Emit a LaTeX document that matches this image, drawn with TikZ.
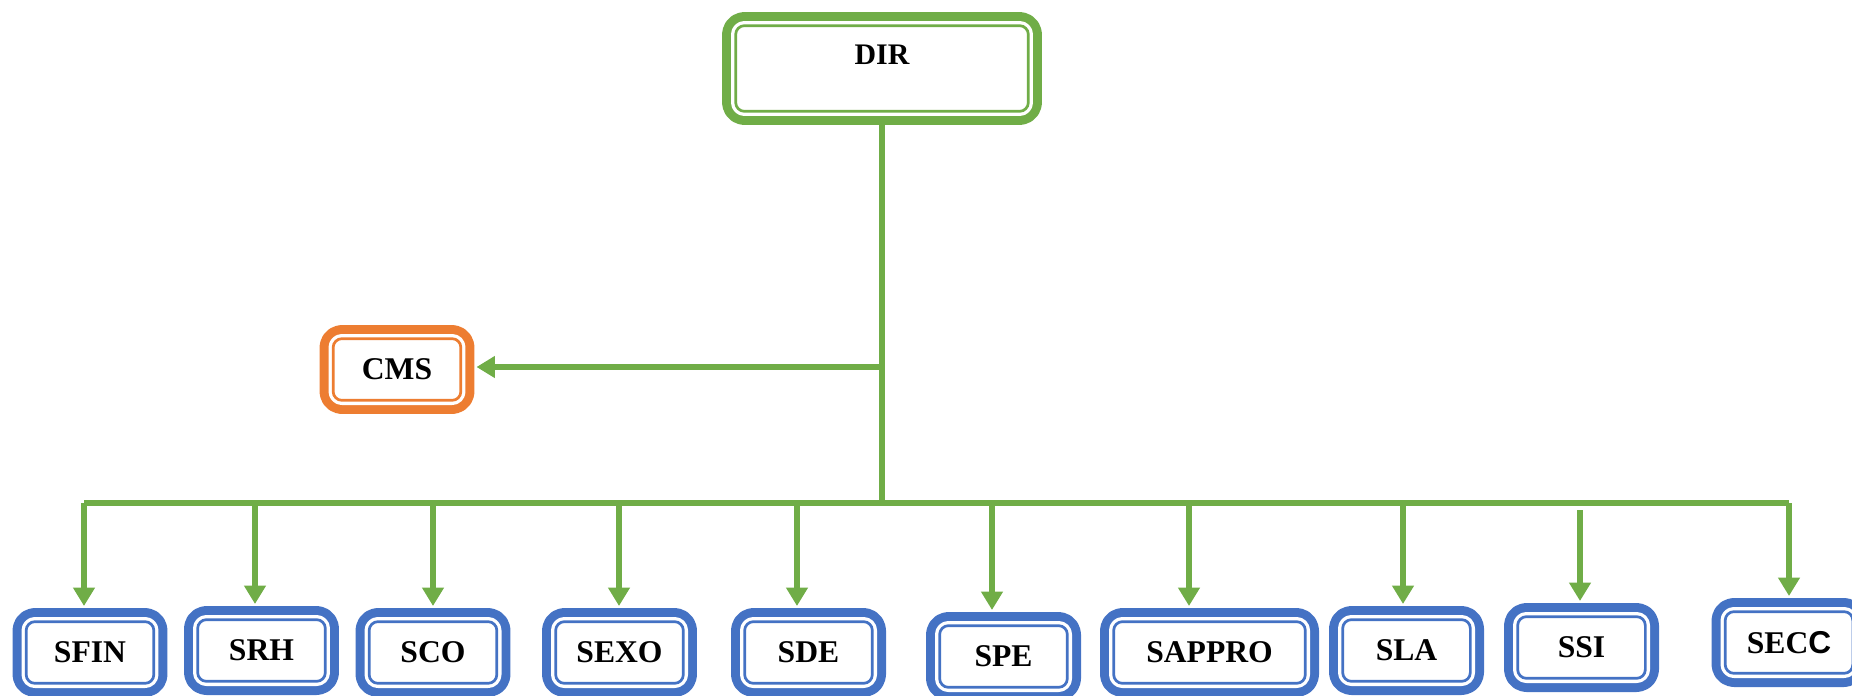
\documentclass[tikz,border=0pt]{standalone}
\usepackage{fontspec}
\setmainfont{Liberation Serif}
\setsansfont{Liberation Sans}
\usetikzlibrary{arrows.meta,positioning}
\definecolor{dirgreen}{HTML}{70AD47}
\definecolor{cmsorange}{HTML}{ED7D31}
\definecolor{srvblue}{HTML}{4472C4}

\begin{document}
\begin{tikzpicture}[x=0.02cm, y=-0.02cm,
  unit/.style={rectangle, draw=#1, fill=white, line width=1.54pt, rounded corners=5pt, line join=round, inner sep=0pt, outer sep=7.77pt,
    minimum width=2.554cm, minimum height=1.234cm, align=center, font=\fontsize{18}{20}\selectfont\bfseries,
    preaction={draw=#1, line width=15.54pt, line join=round}, preaction={draw=white, line width=5.3pt, line join=round}},
  link/.style={draw=dirgreen, line width=0.12cm},
  arr/.style={link, -{Triangle[length=0.37cm, width=0.42cm]}, shorten >=0.04cm}]
\useasboundingbox (0,0) rectangle (1852,696);
% direction and advisory unit
\node[unit=dirgreen, minimum width=5.854cm, minimum height=1.714cm, text depth=0.54cm, font=\fontsize{17}{20}\selectfont\bfseries] (dir) at (882,68.5) {DIR};
\node[unit=cmsorange] (cms) at (397,369.5) {CMS};
% services
\node[unit=srvblue] (sfin) at (90,652.5) {SFIN};
\node[unit=srvblue] (srh) at (261.5,650.5) {SRH};
\node[unit=srvblue] (sco) at (433,652.5) {SCO};
\node[unit=srvblue] (sexo) at (619.5,652.5) {SEXO};
\node[unit=srvblue] (sde) at (808.5,652.5) {SDE};
\node[unit=srvblue] (spe) at (1003.5,656.5) {SPE};
\node[unit=srvblue, minimum width=3.834cm] (sappro) at (1209.5,652.5) {SAPPRO};
\node[unit=srvblue] (sla) at (1406.5,650.5) {SLA};
\node[unit=srvblue] (ssi) at (1581.5,647.5) {SSI};
\node[unit=srvblue] (secc) at (1789,642.5) {SEC{\sffamily C}};
% bus points
\coordinate (hub) at (882,503); \coordinate (tap) at (882,367);
\coordinate (b1) at (84,503); \coordinate (b2) at (255,503); \coordinate (b3) at (433,503); \coordinate (b4) at (619,503);
\coordinate (b5) at (797,503); \coordinate (b6) at (992,503); \coordinate (b7) at (1189,503); \coordinate (b8) at (1403,503);
\coordinate (b9) at (1580,510); \coordinate (b10) at (1789,503);
\draw[link] (dir) -- (hub); \draw[arr] (tap) -- (tap -| cms.east); \draw[link] (b1) -- (b10);
\draw[arr] (b1) -- (b1 |- sfin.north); \draw[arr] (b2) -- (b2 |- srh.north); \draw[arr] (b3) -- (b3 |- sco.north);
\draw[arr] (b4) -- (b4 |- sexo.north); \draw[arr] (b5) -- (b5 |- sde.north); \draw[arr] (b6) -- (b6 |- spe.north);
\draw[arr] (b7) -- (b7 |- sappro.north); \draw[arr] (b8) -- (b8 |- sla.north); \draw[arr] (b9) -- (b9 |- ssi.north);
\draw[arr] (b10) -- (b10 |- secc.north);
\end{tikzpicture}
\end{document}
